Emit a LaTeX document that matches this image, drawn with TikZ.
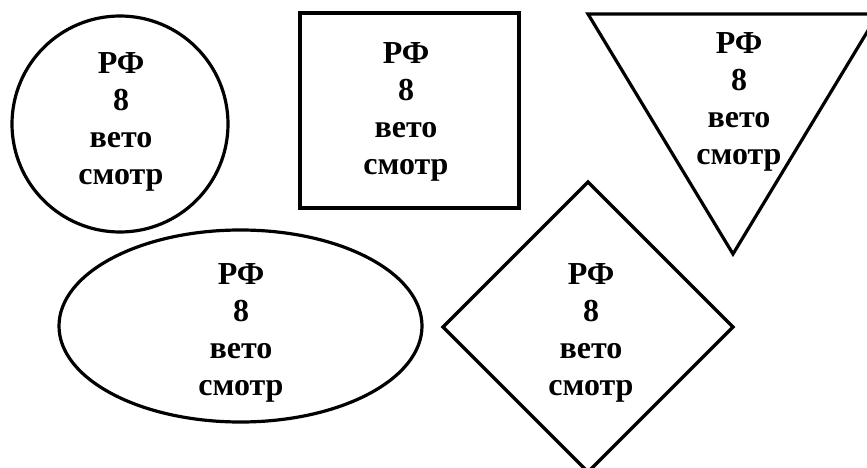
\documentclass[tikz,border=0pt]{standalone}
\usepackage{fontspec}
\setmainfont{Liberation Serif}
\usetikzlibrary{shapes.geometric}

\begin{document}
\begin{tikzpicture}[x=1pt, y=-1pt,
  shapeline/.style={draw=black, line width=3.2pt, inner sep=0pt, outer sep=0pt},
  caption/.style={align=center, inner sep=0pt, text=black,
    font=\fontsize{32}{37}\selectfont\bfseries}
]
  \useasboundingbox (0,0) rectangle (867,468);

  % outlines
  \node[shapeline, circle, minimum size=216pt] (circ) at (120,124) {};
  \node[shapeline, rectangle, minimum width=219pt, minimum height=195pt] (box) at (409.5,110.5) {};
  \coordinate (tl) at (588,14);
  \coordinate (tr) at (878,14);
  \coordinate (tb) at (733,254);
  \draw[shapeline] (tl) -- (tr) -- (tb) -- cycle;
  \node[shapeline, ellipse, minimum width=363pt, minimum height=192pt] (oval) at (240.5,326) {};
  \node[shapeline, diamond, aspect=1, minimum width=290pt, minimum height=290pt] (rhomb) at (588,327) {};

  % texts
  \node[caption] (circtxt) at (121,122) {РФ\\8\\вето\\смотр};
  \node[caption] (boxtxt) at (406,112) {РФ\\8\\вето\\смотр};
  \node[caption] (tritxt) at (739,101.5) {РФ\\8\\вето\\смотр};
  \node[caption] (ovaltxt) at (241,332.5) {РФ\\8\\вето\\смотр};
  \node[caption] (rhombtxt) at (591,332.5) {РФ\\8\\вето\\смотр};
\end{tikzpicture}
\end{document}
